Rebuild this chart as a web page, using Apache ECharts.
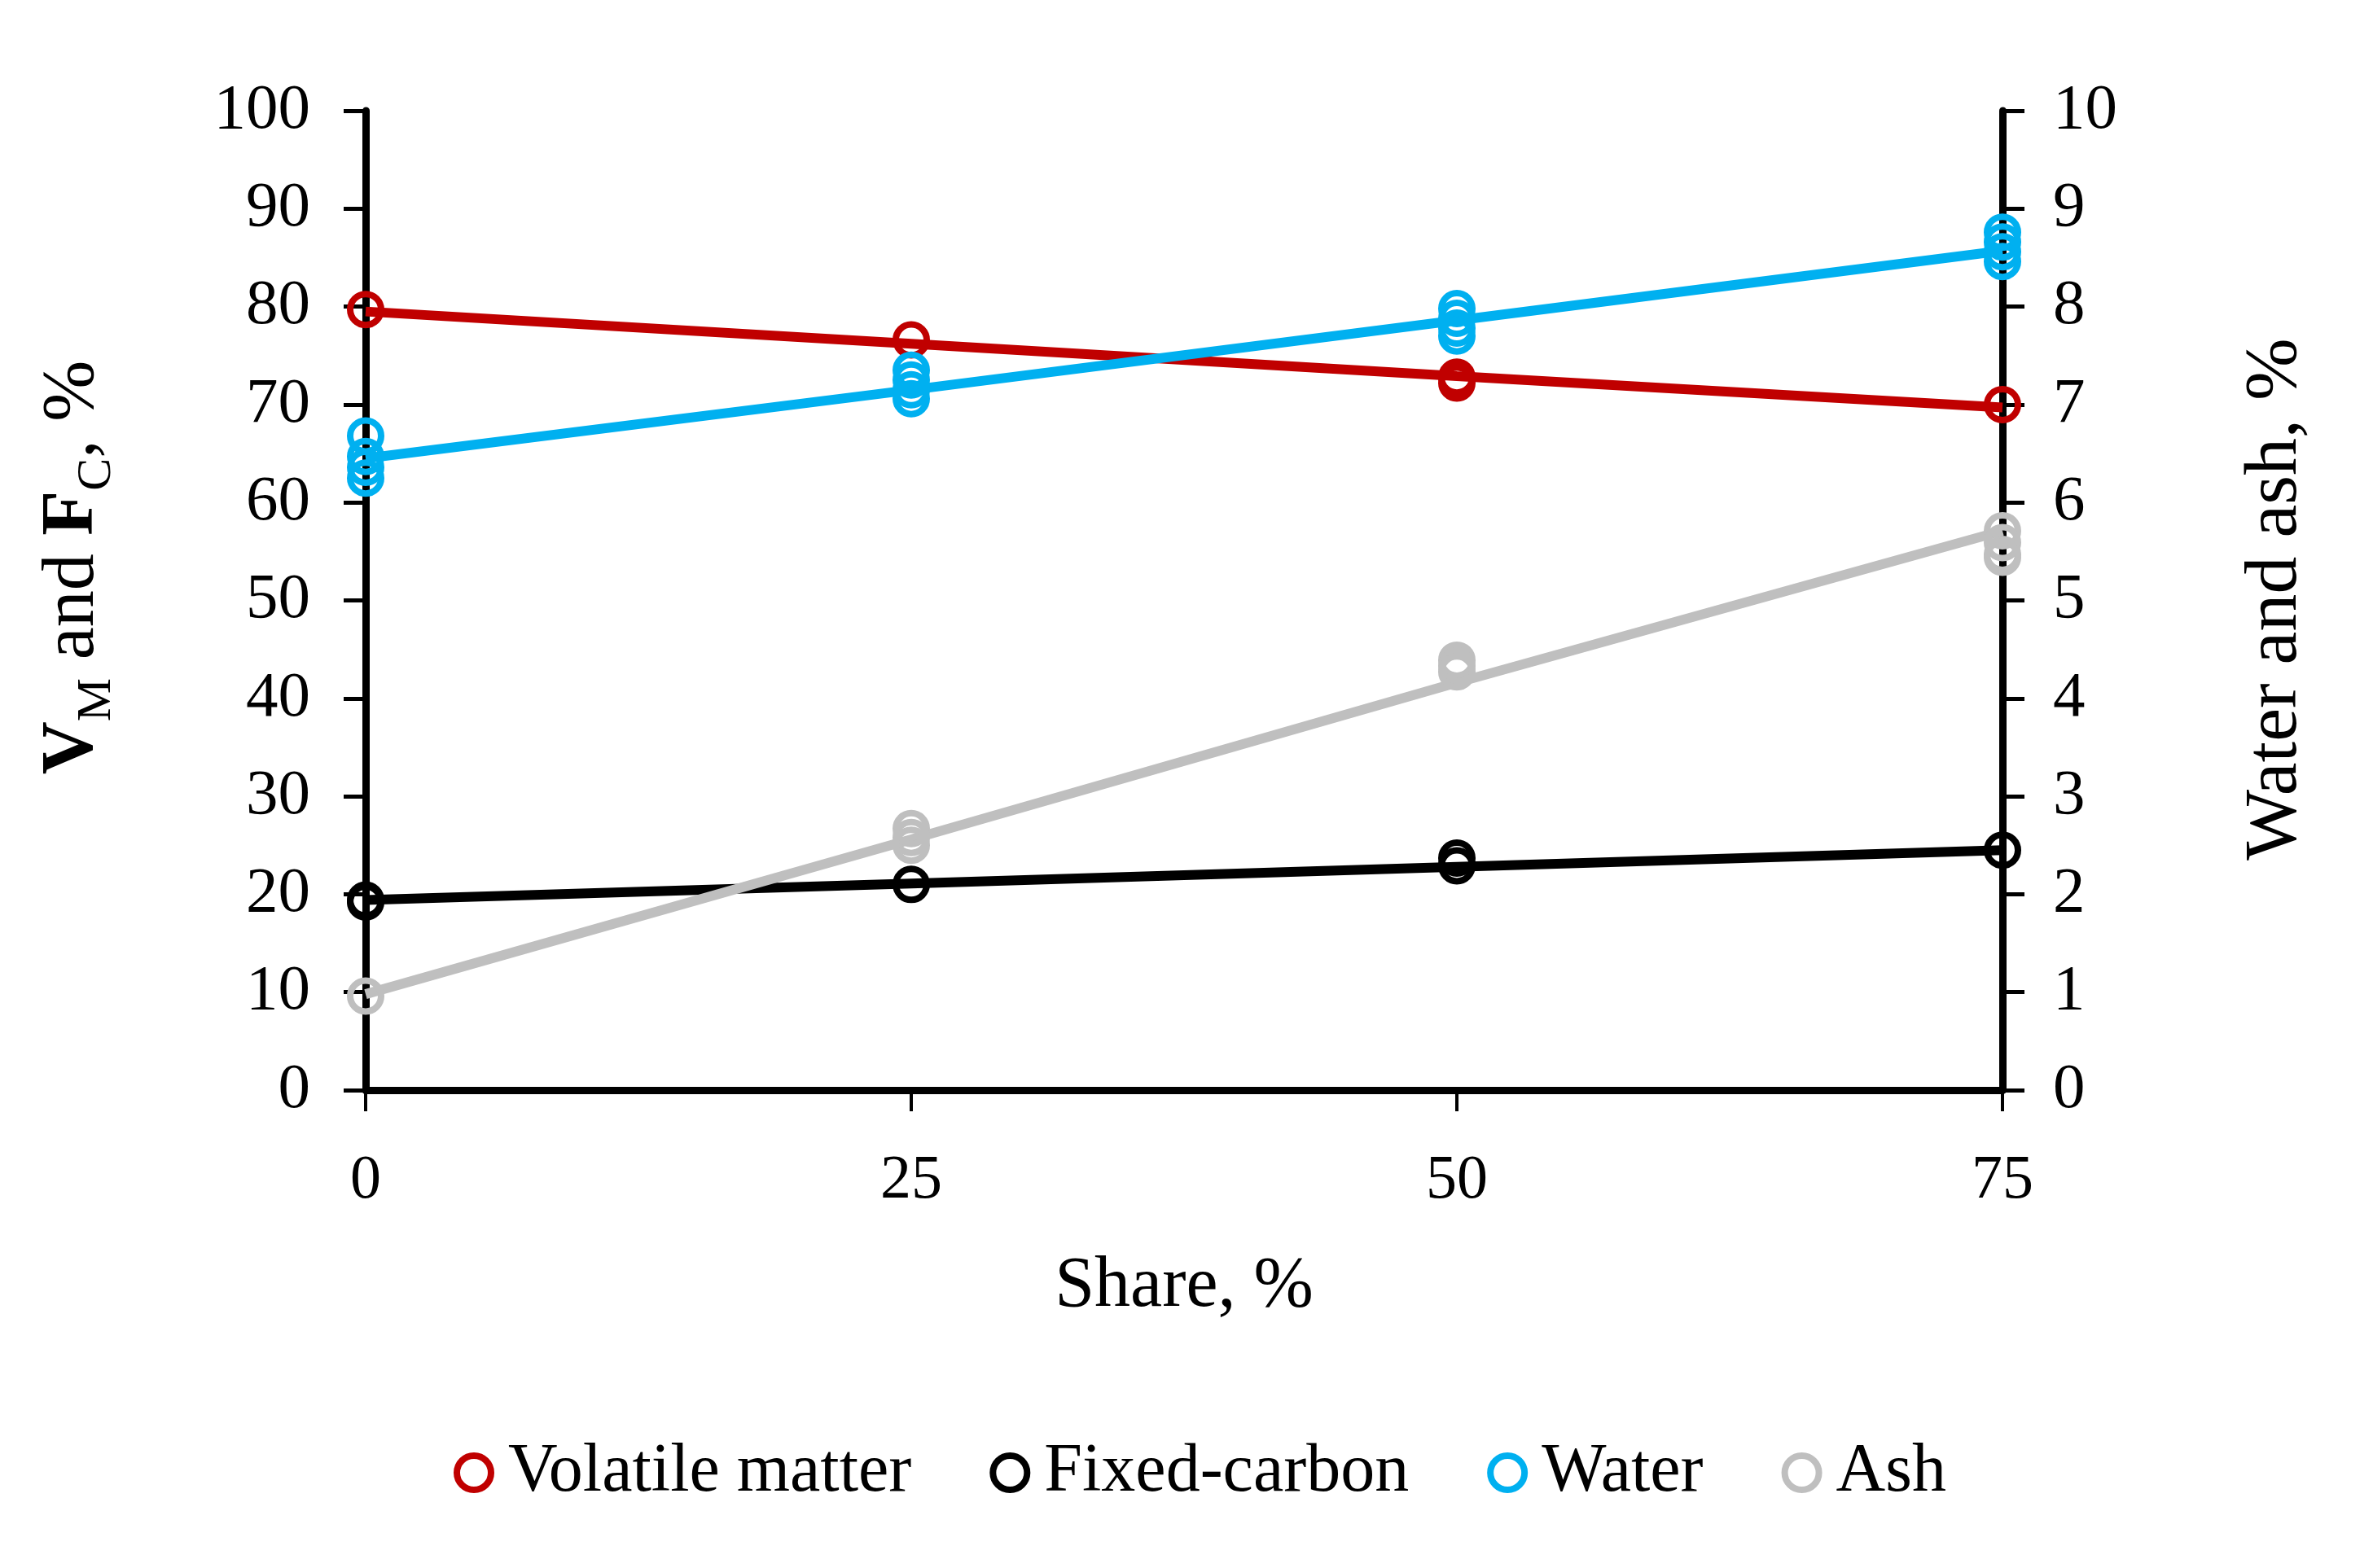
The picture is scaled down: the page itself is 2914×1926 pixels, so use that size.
<!DOCTYPE html>
<html>
<head>
<meta charset="utf-8">
<script src="https://cdn.jsdelivr.net/npm/echarts@6/dist/echarts.min.js"></script>
<style>
html,body{margin:0;padding:0;background:#fff;}
#chart{width:2914px;height:1926px;}
</style>
</head>
<body>
<div id="chart"></div>
<script>
// Shares (x positions), %
const shares = [0, 25, 50, 75];
// Measured replicate points per share
const vmPoints    = [[79.7], [76.6], [72.8, 72.2], [70.0]];
const fcPoints    = [[19.2, 19.4], [21.0], [23.7, 22.9], [24.5]];
const waterPoints = [[6.68, 6.47, 6.36, 6.25], [7.35, 7.25, 7.15, 7.06], [7.98, 7.88, 7.78, 7.70], [8.76, 8.66, 8.56, 8.46]];
const ashPoints   = [[0.96], [2.67, 2.58, 2.50], [4.39, 4.33, 4.27], [5.71, 5.59, 5.47, 5.44]];
// Trend-line values at each share
const vmTrend    = [79.5, 76.2, 72.9, 69.7];
const fcTrend    = [19.4, 21.1, 22.8, 24.5];
const waterTrend = [6.45, 7.15, 7.86, 8.57];
const ashTrend   = [0.98, 2.56, 4.16, 5.71];
// Tick labels
const leftTicks = [0,10,20,30,40,50,60,70,80,90,100];
const rightTicks = [0,1,2,3,4,5,6,7,8,9,10];
const xTicks = [0,25,50,75];

const names = ['Volatile matter', 'Fixed-carbon', 'Water', 'Ash'];
const colors = ['#C00000', '#000000', '#00B0F0', '#BFBFBF'];
const FONT = '"Liberation Serif", "DejaVu Serif", serif';

function pairs(points) {
  const out = [];
  points.forEach((arr, i) => arr.forEach(v => out.push([shares[i], v])));
  return out;
}
function trend(vals) { return vals.map((v, i) => [shares[i], v]); }

const sets = [
  {p: vmPoints, t: vmTrend, axis: 0},
  {p: fcPoints, t: fcTrend, axis: 0},
  {p: waterPoints, t: waterTrend, axis: 1},
  {p: ashPoints, t: ashTrend, axis: 1}
];

const series = [];
sets.forEach((s, i) => {
  series.push({
    name: names[i] + ' trend',
    type: 'line',
    yAxisIndex: s.axis,
    data: trend(s.t),
    showSymbol: false,
    symbol: 'none',
    silent: true,
    lineStyle: {color: colors[i], width: 12},
    z: 2 + i * 2
  });
  series.push({
    name: names[i],
    type: 'scatter',
    yAxisIndex: s.axis,
    data: pairs(s.p),
    symbol: 'circle',
    symbolSize: 38,
    itemStyle: {color: 'rgba(255,255,255,0)', borderColor: colors[i], borderWidth: 8, opacity: 1},
    z: 3 + i * 2
  });
});

const axisLine = {show: true, onZero: false, lineStyle: {color: '#000', width: 9}};
const chart = echarts.init(document.getElementById('chart'));
chart.setOption({
  animation: false,
  backgroundColor: '#fff',
  grid: {left: 449, right: 455, top: 136, bottom: 587, containLabel: false},
  legend: {
    data: names,
    bottom: 70,
    left: 552,
    itemWidth: 42,
    itemHeight: 42,
    itemGap: 96,
    icon: 'circle',
    itemStyle: {borderWidth: 8},
    textStyle: {fontFamily: FONT, fontSize: 84, color: '#000', padding: [0, 0, 0, 16]}
  },
  xAxis: {
    type: 'value',
    min: 0, max: 75, interval: 25,
    axisLine: axisLine,
    axisTick: {show: true, inside: false, length: 26, lineStyle: {color: '#000', width: 4}},
    splitLine: {show: false},
    axisLabel: {fontFamily: FONT, fontSize: 76, color: '#000', margin: 74,
      formatter: v => xTicks.includes(v) ? String(v) : ''},
    name: 'Share, %',
    nameLocation: 'middle',
    nameGap: 198,
    nameTextStyle: {fontFamily: FONT, fontSize: 88, color: '#000'}
  },
  yAxis: [{
    type: 'value',
    position: 'left',
    min: 0, max: 100, interval: 10,
    axisLine: axisLine,
    axisTick: {show: true, inside: false, length: 27, lineStyle: {color: '#000', width: 5}},
    splitLine: {show: false},
    axisLabel: {fontFamily: FONT, fontSize: 79, color: '#000', margin: 68,
      formatter: v => leftTicks.includes(v) ? String(v) : ''},
  }, {
    type: 'value',
    position: 'right',
    min: 0, max: 10, interval: 1,
    axisLine: axisLine,
    axisTick: {show: true, inside: false, length: 27, lineStyle: {color: '#000', width: 5}},
    splitLine: {show: false},
    axisLabel: {fontFamily: FONT, fontSize: 79, color: '#000', margin: 62,
      formatter: v => rightTicks.includes(v) ? String(v) : ''},
  }],
  graphic: [{
    type: 'text',
    x: 90, y: 697,
    rotation: Math.PI / 2,
    style: {
      text: '{b|V}{s|M}{n| and }{b|F}{s|C}{n|, %}',
      align: 'center', verticalAlign: 'middle',
      fill: '#000',
      font: '90px ' + FONT,
      rich: {
        b: {fontFamily: FONT, fontSize: 90, fontWeight: 'bold', fill: '#000', lineHeight: 90, verticalAlign: 'top'},
        n: {fontFamily: FONT, fontSize: 90, fill: '#000', lineHeight: 90, verticalAlign: 'top'},
        s: {fontFamily: FONT, fontSize: 60, fill: '#000', lineHeight: 60, padding: [44, 0, 0, 0], verticalAlign: 'top'}
      }
    }
  }, {
    type: 'text',
    x: 2795, y: 736,
    rotation: Math.PI / 2,
    style: {
      text: 'Water and ash, %',
      align: 'center', verticalAlign: 'middle',
      fill: '#000',
      font: '92px ' + FONT
    }
  }],
  series: series
});
</script>
</body>
</html>
